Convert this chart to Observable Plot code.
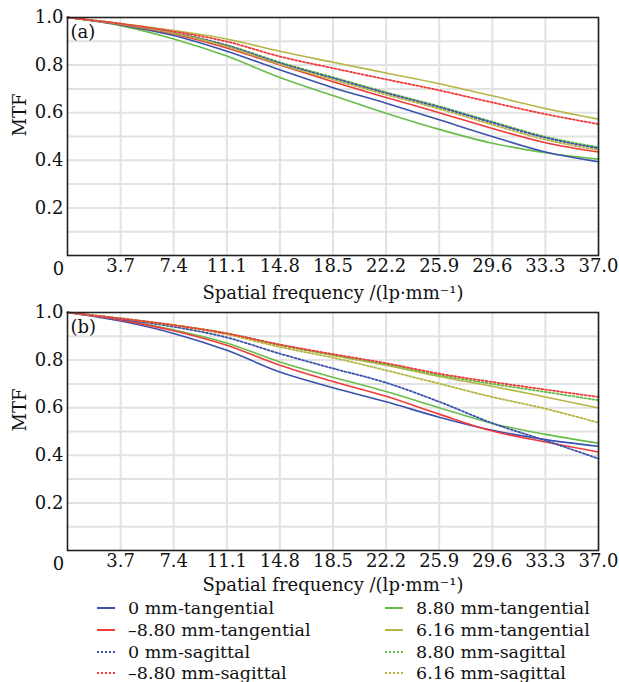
<!DOCTYPE html>
<html>
<head>
<meta charset="utf-8">
<script src="https://cdn.jsdelivr.net/npm/d3@7"></script>
<script src="https://cdn.jsdelivr.net/npm/@observablehq/plot@0.6"></script>
<style>
  body { margin: 0; background: #fff; font-family: "DejaVu Serif", serif; }
  #wrap { width: 619px; }
  svg { display: block; }
  #legend { position: relative; width: 619px; height: 86px; font-size: 17.5px; color: #111; }
  .item { position: absolute; height: 22px; display: flex; align-items: center; white-space: nowrap; }
  .item svg { margin-right: 13px; }
</style>
</head>
<body>
<div id="wrap"></div>
<script>
// ---- data ----
const freq = [0, 3.7, 7.4, 11.1, 14.8, 18.5, 22.2, 25.9, 29.6, 33.3, 37.0];
const xTicks = [3.7, 7.4, 11.1, 14.8, 18.5, 22.2, 25.9, 29.6, 33.3, 37.0];
const yTicks = [0.2, 0.4, 0.6, 0.8, 1.0];
const yGrid = [0.1, 0.2, 0.3, 0.4, 0.5, 0.6, 0.7, 0.8, 0.9];

const seriesNames = ["0 mm-tangential", "\u20138.80 mm-tangential", "0 mm-sagittal", "\u20138.80 mm-sagittal",
                     "8.80 mm-tangential", "6.16 mm-tangential", "8.80 mm-sagittal", "6.16 mm-sagittal"];
const seriesColors = ["#3a52ad", "#ef3b3b", "#3a52ad", "#ef3b3b", "#67bd47", "#b7b444", "#67bd47", "#b7b444"];
const seriesDotted = [false, false, true, true, false, false, true, true];

// panel (a)
const a0t  = [1, 0.969, 0.924, 0.858, 0.780, 0.705, 0.640, 0.570, 0.500, 0.435, 0.394];
const am8t = [1, 0.971, 0.931, 0.872, 0.800, 0.730, 0.664, 0.600, 0.534, 0.474, 0.435];
const a0s  = [1, 0.972, 0.935, 0.882, 0.808, 0.745, 0.682, 0.623, 0.558, 0.495, 0.450];
const am8s = [1, 0.974, 0.941, 0.899, 0.836, 0.787, 0.740, 0.694, 0.643, 0.594, 0.552];
const a8t  = [1, 0.966, 0.910, 0.838, 0.748, 0.672, 0.598, 0.530, 0.472, 0.432, 0.405];
const a6t  = [1, 0.975, 0.945, 0.910, 0.858, 0.812, 0.767, 0.722, 0.671, 0.618, 0.573];
const a8s  = [1, 0.972, 0.936, 0.884, 0.812, 0.749, 0.686, 0.627, 0.562, 0.499, 0.455];
const a6s  = [1, 0.972, 0.934, 0.878, 0.803, 0.739, 0.676, 0.616, 0.550, 0.487, 0.443];

// panel (b)
const b0t  = [1, 0.964, 0.912, 0.841, 0.750, 0.684, 0.625, 0.560, 0.505, 0.466, 0.438];
const bm8t = [1, 0.968, 0.923, 0.862, 0.778, 0.710, 0.648, 0.573, 0.502, 0.456, 0.414];
const b0s  = [1, 0.972, 0.940, 0.895, 0.827, 0.765, 0.705, 0.625, 0.535, 0.462, 0.386];
const bm8s = [1, 0.975, 0.947, 0.912, 0.865, 0.825, 0.787, 0.743, 0.708, 0.676, 0.645];
const b8t  = [1, 0.970, 0.927, 0.872, 0.792, 0.728, 0.668, 0.600, 0.534, 0.488, 0.451];
const b6t  = [1, 0.975, 0.947, 0.912, 0.863, 0.820, 0.778, 0.731, 0.690, 0.645, 0.599];
const b8s  = [1, 0.975, 0.947, 0.912, 0.864, 0.823, 0.783, 0.737, 0.700, 0.666, 0.631];
const b6s  = [1, 0.975, 0.946, 0.908, 0.855, 0.810, 0.757, 0.701, 0.645, 0.596, 0.537];

const panelA = [a0t, am8t, a0s, am8s, a8t, a6t, a8s, a6s];
const panelB = [b0t, bm8t, b0s, bm8s, b8t, b6t, b8s, b6s];

const xTitle = "Spatial frequency /(lp\u00B7mm\u207B\u00B9)";
const yTitle = "MTF";

function panel(values, tag, marginTop, height, titleDy) {
  const lineMarks = [];
  const order = [4, 0, 1, 5, 6, 2, 7, 3];
  for (const i of order) {
    const rows = freq.map((f, k) => ({f, v: values[i][k]}));
    lineMarks.push(Plot.line(rows, {
      x: "f", y: "v", stroke: seriesColors[i],
      strokeWidth: seriesDotted[i] ? 1.8 : 1.6,
      strokeDasharray: seriesDotted[i] ? "2,2" : null,
      curve: "monotone-x"
    }));
  }
  return Plot.plot({
    width: 619, height,
    marginLeft: 67, marginRight: 21, marginTop, marginBottom: height - marginTop - 238,
    style: {fontFamily: "DejaVu Serif, serif", fontSize: "18px", color: "#111", background: "transparent"},
    x: {domain: [0, 37], axis: null},
    y: {domain: [0, 1], axis: null},
    marks: [
      Plot.ruleY(yGrid, {stroke: "#e2e2e2", strokeWidth: 2}),
      Plot.ruleX(xTicks, {stroke: "#e2e2e2", strokeWidth: 2}),
      ...lineMarks,
      Plot.frame({stroke: "#222", strokeWidth: 1.6}),
      Plot.axisX(xTicks, {tickSize: 0, tickPadding: 4, tickFormat: d => d.toFixed(1), label: null, fontSize: 18}),
      Plot.axisY(yTicks, {tickSize: 0, tickPadding: 4, tickFormat: d => d.toFixed(1), label: null, fontSize: 18}),
      Plot.text([0], {x: d => d, y: d => d, text: d => String(d), dx: -9, dy: 14, lineAnchor: "middle", fontSize: 18}),
      Plot.text([xTitle], {frameAnchor: "bottom", dy: titleDy, lineAnchor: "middle", fontSize: 18}),
      Plot.text([yTitle], {frameAnchor: "left", dx: -47, rotate: -90, fontSize: 18}),
      Plot.text([tag], {x: d => 0, y: d => 1, text: d => d, dx: 3, dy: 15, textAnchor: "start", fontSize: 18})
    ]
  });
}

const wrap = document.getElementById("wrap");
wrap.appendChild(panel(panelA, "(a)", 17, 306, 38));
const svgB = panel(panelB, "(b)", 14, 298, 35);
svgB.style.marginTop = "-8px";
wrap.appendChild(svgB);

// legend
const legend = document.createElement("div");
legend.id = "legend";
seriesNames.forEach((name, i) => {
  const col = i < 4 ? 0 : 1;
  const row = i % 4;
  const item = document.createElement("div");
  item.className = "item";
  item.style.left = (col === 0 ? 97 : 385) + "px";
  item.style.top = (1 + row * 21.8) + "px";
  const dash = seriesDotted[i] ? ' stroke-dasharray="2,2"' : "";
  item.innerHTML = `<svg width="18" height="6"><line x1="0" y1="3" x2="18" y2="3" stroke="${seriesColors[i]}" stroke-width="2"${dash}/></svg><span>${name}</span>`;
  legend.appendChild(item);
});
wrap.appendChild(legend);
</script>
</body>
</html>
